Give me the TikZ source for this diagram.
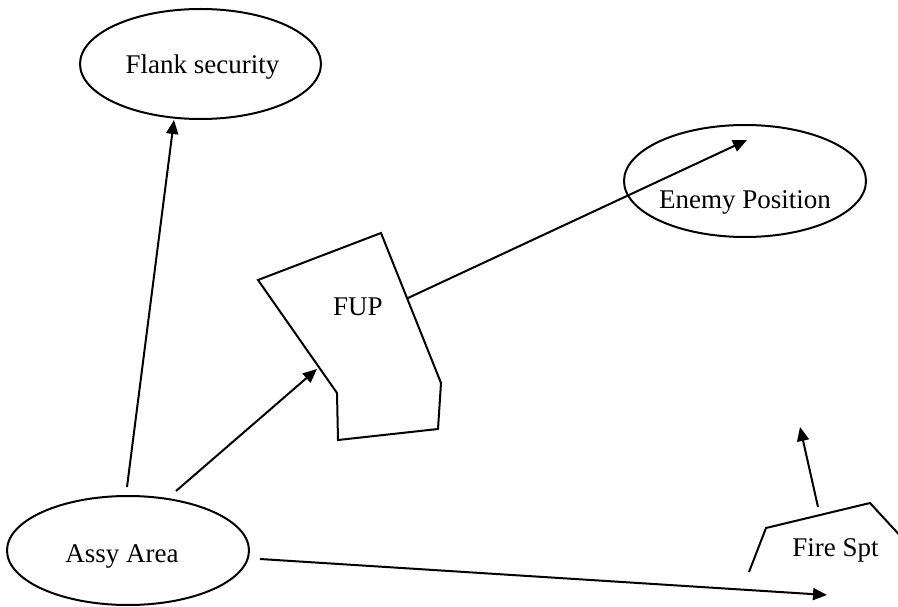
\documentclass[tikz,border=0pt]{standalone}
\usepackage{fontspec}
\setmainfont{Liberation Serif}
\usetikzlibrary{arrows.meta,shapes.geometric}

\begin{document}
\begin{tikzpicture}[x=1pt,y=-1pt,
  line width=2pt,
  area/.style={draw,ellipse,inner sep=0pt},
  label/.style={anchor=base,inner sep=0pt,font=\fontsize{27}{32}\selectfont},
  arr/.style={-{Triangle[length=14pt,width=12pt]}}]
\useasboundingbox (0,0) rectangle (898,607);

% oval areas
\node[area,minimum width=241pt,minimum height=110pt] (flank) at (200.5,64) {};
\node[area,minimum width=242pt,minimum height=112pt] (enemy) at (745,181) {};
\node[area,minimum width=242pt,minimum height=109pt] (assy) at (128,550.5) {};

% form-up point outline
\draw (258,280) -- (381,233) -- (441,383) -- (438,429) -- (338,440) -- (337,393) -- cycle;
% fire support outline (runs off the right edge)
\draw (749,572) -- (766,528) -- (870,503) -- (905,541);

% labels
\node[label] (flankT) at (202.5,74) {Flank security};
\node[label] (enemyT) at (745,209) {Enemy Position};
\node[label] (assyT) at (122,562) {Assy Area};
\node[label] (fupT) at (358,316) {FUP};
\node[label] (fireT) at (835.5,556) {Fire Spt};

% connector ends
\coordinate (aN) at (127,487);
\coordinate (aNE) at (176,491);
\coordinate (aE) at (260,559);
\coordinate (flankS) at (174,120);
\coordinate (fupW) at (317,369);
\coordinate (fupE) at (408,298);
\coordinate (enemyIn) at (747,140);
\coordinate (fireTop) at (818,507);
\coordinate (fireUp) at (800,427);
\coordinate (fireBase) at (827,595);

% movements
\draw[arr] (aN) -- (flankS);
\draw[arr] (aNE) -- (fupW);
\draw[arr] (fupE) -- (enemyIn);
\draw[arr] (aE) -- (fireBase);
\draw[arr] (fireTop) -- (fireUp);
\end{tikzpicture}
\end{document}
